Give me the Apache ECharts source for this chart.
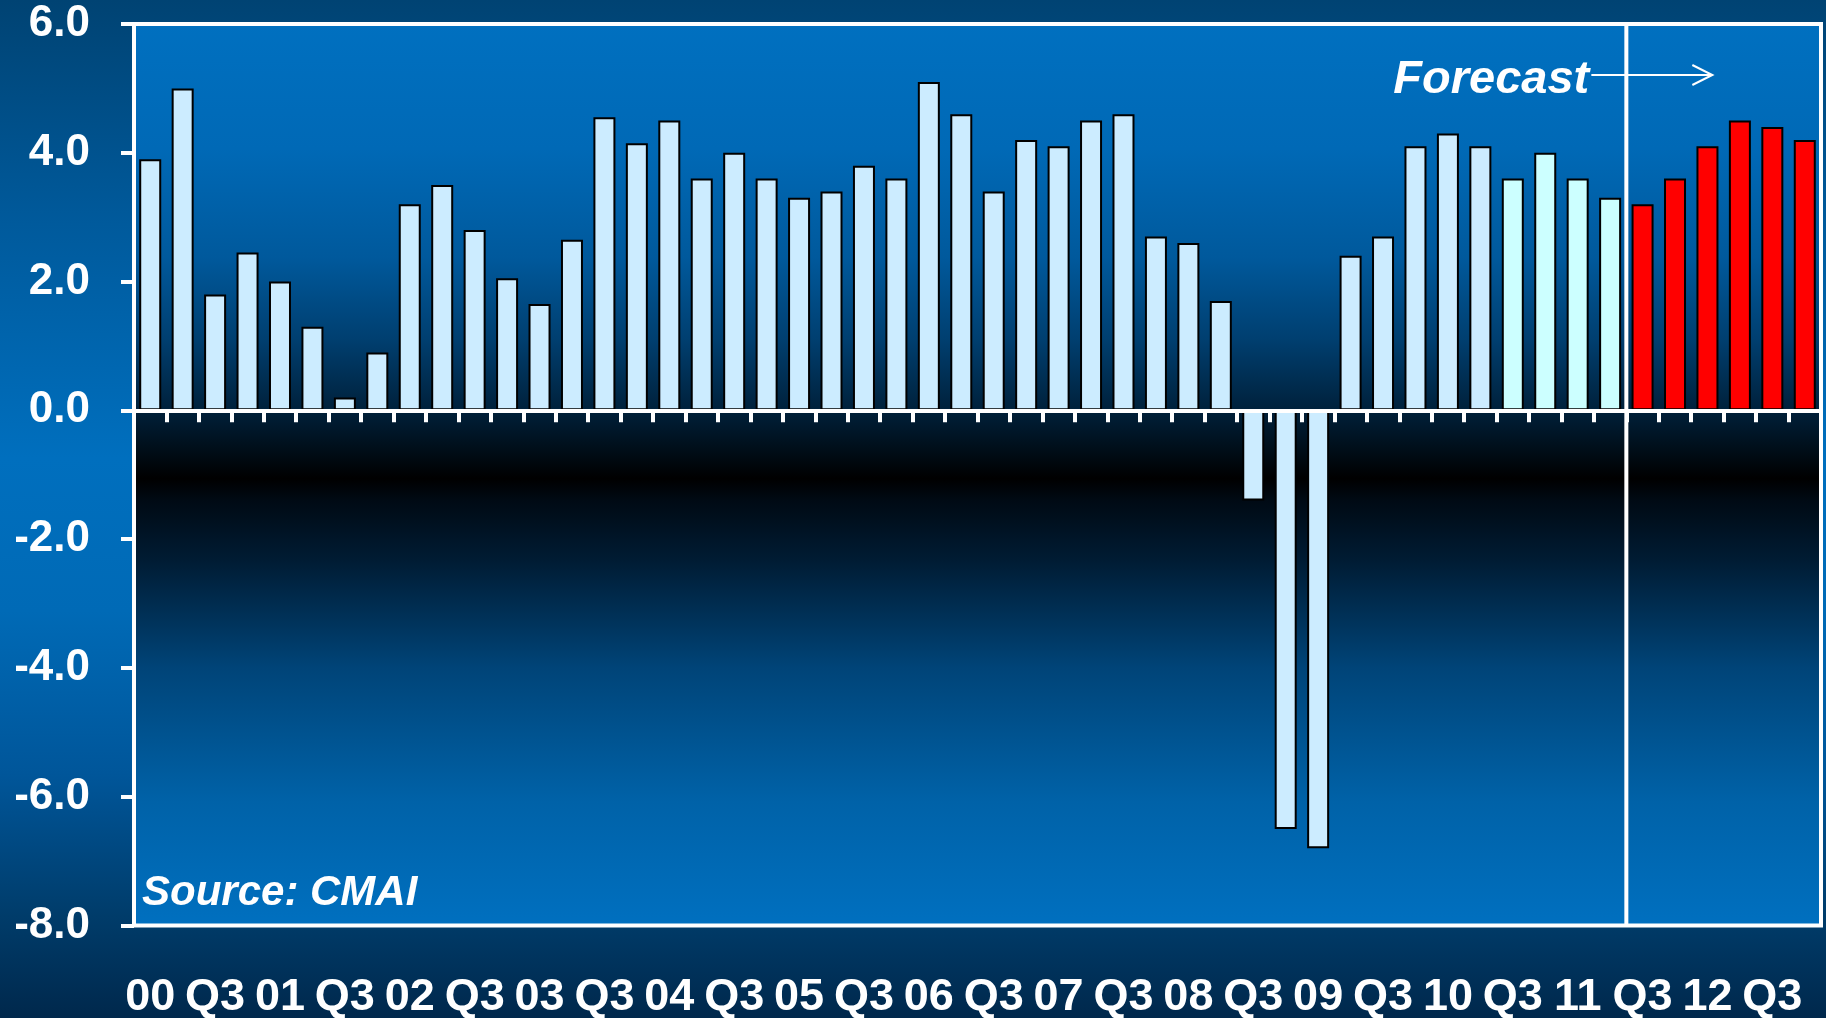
<!DOCTYPE html>
<html>
<head>
<meta charset="utf-8">
<title>Quarterly growth</title>
<script src="https://cdn.jsdelivr.net/npm/echarts@6/dist/echarts.min.js"></script>
<style>
  html, body { margin: 0; padding: 0; width: 1826px; height: 1018px; overflow: hidden; background: #00416e; }
  #chart { width: 1826px; height: 1018px; }
</style>
</head>
<body>
<div id="chart"></div>
<script>
// Quarter labels: two-digit years and quarter names
const years = ['00', '01', '02', '03', '04', '05', '06', '07', '08', '09', '10', '11', '12'];
const quarters = ['Q1', 'Q2', 'Q3', 'Q4'];

// Growth rate per quarter, 2000 Q1 .. 2012 Q4 (%)
const growth = [
  3.9, 5.0, 1.8, 2.45,
  2.0, 1.3, 0.2, 0.9,
  3.2, 3.5, 2.8, 2.05,
  1.65, 2.65, 4.55, 4.15,
  4.5, 3.6, 4.0, 3.6,
  3.3, 3.4, 3.8, 3.6,
  5.1, 4.6, 3.4, 4.2,
  4.1, 4.5, 4.6, 2.7,
  2.6, 1.7, -1.4, -6.5,
  -6.8, 2.4, 2.7, 4.1,
  4.3, 4.1, 3.6, 4.0,
  3.6, 3.3, 3.2, 3.6,
  4.1, 4.5, 4.4, 4.2
];

// Y axis ticks
const yMin = -8, yMax = 6, yStep = 2;

// First quarter of the most recent actuals, and first forecast quarter
const recentFrom = '10Q3';
const forecastFrom = '11Q3';

const categories = [];
years.forEach(function (y) { quarters.forEach(function (q) { categories.push(y + q); }); });

const recentIdx = categories.indexOf(recentFrom);
const forecastIdx = categories.indexOf(forecastFrom);

const FONT = 'Arial, "Liberation Sans", Helvetica, sans-serif';

const barData = growth.map(function (v, i) {
  let fill = '#CCECFF';
  if (i >= forecastIdx) fill = '#FF0000';
  else if (i >= recentIdx) fill = '#CCFFFF';
  return { value: v, itemStyle: { color: fill } };
});

const chart = echarts.init(document.getElementById('chart'), null, { renderer: 'canvas' });

const option = {
  animation: false,
  backgroundColor: new echarts.graphic.LinearGradient(0, 0, 0, 1, [
    { offset: 0, color: '#004373' },
    { offset: 0.22, color: '#005a9c' },
    { offset: 0.45, color: '#006fbe' },
    { offset: 0.6, color: '#006ab6' },
    { offset: 0.76, color: '#00569a' },
    { offset: 0.9, color: '#003c6a' },
    { offset: 1, color: '#00284c' }
  ]),
  grid: {
    left: 134, right: 5, top: 24, bottom: 92.5,
    outerBoundsMode: 'none',
    containLabel: false,
    show: true,
    borderColor: '#ffffff',
    borderWidth: 4,
    backgroundColor: new echarts.graphic.LinearGradient(0, 0, 0, 1, [
      { offset: 0, color: '#0070c0' },
      { offset: 0.14, color: '#0069b6' },
      { offset: 0.26, color: '#00599c' },
      { offset: 0.35, color: '#003f70' },
      { offset: 0.423, color: '#00233f' },
      { offset: 0.504, color: '#000000' },
      { offset: 0.528, color: '#000a14' },
      { offset: 0.595, color: '#001c34' },
      { offset: 0.713, color: '#004478' },
      { offset: 0.861, color: '#0062a8' },
      { offset: 1, color: '#0070c0' }
    ])
  },
  xAxis: [
    {
      // zero line with quarter boundary ticks
      type: 'category',
      data: categories,
      position: 'bottom',
      z: 10,
      axisLine: { show: true, onZero: true, lineStyle: { color: '#ffffff', width: 4 } },
      axisTick: { show: true, interval: 0, length: 12, inside: false, lineStyle: { color: '#ffffff', width: 4 } },
      axisLabel: { show: false },
      splitLine: { show: false }
    },
    {
      // year / Q3 labels under the plot
      type: 'category',
      data: categories,
      position: 'bottom',
      axisLine: { show: false, onZero: false },
      axisTick: { show: false },
      splitLine: { show: false },
      axisLabel: {
        show: true,
        interval: 0,
        margin: 50,
        color: '#ffffff',
        fontFamily: FONT,
        fontWeight: 'bold',
        fontSize: 45,
        formatter: function (v) {
          if (v.slice(2) === quarters[0]) return v.slice(0, 2);
          if (v.slice(2) === quarters[2]) return quarters[2];
          return '';
        }
      }
    }
  ],
  yAxis: {
    type: 'value',
    min: yMin, max: yMax, interval: yStep,
    axisLine: { show: false },
    axisTick: { show: true, length: 13, inside: false, lineStyle: { color: '#ffffff', width: 4 } },
    splitLine: { show: false },
    axisLabel: {
      margin: 44,
      color: '#ffffff',
      fontFamily: FONT,
      fontWeight: 'bold',
      fontSize: 44,
      formatter: function (v) { return v.toFixed(1); }
    }
  },
  series: [{
    type: 'bar',
    xAxisIndex: 0,
    data: barData,
    barWidth: 22,
    itemStyle: { borderColor: '#000000', borderWidth: 2 }
  }]
};

chart.setOption(option);

// Forecast divider, arrow and notes placed from the axis scales
const xLast = chart.convertToPixel({ xAxisIndex: 0 }, categories[forecastIdx - 1]);
const xFirst = chart.convertToPixel({ xAxisIndex: 0 }, categories[forecastIdx]);
const divX = (xLast + xFirst) / 2;
const yTop = chart.convertToPixel({ yAxisIndex: 0 }, yMax);
const yBot = chart.convertToPixel({ yAxisIndex: 0 }, yMin);
const arrowY = 75;

chart.setOption({
  graphic: [
    {
      type: 'line', z: 20,
      shape: { x1: divX, y1: yTop, x2: divX, y2: yBot },
      style: { stroke: '#ffffff', lineWidth: 4 }
    },
    {
      type: 'text', z: 21,
      style: {
        text: 'Forecast', x: divX - 233, y: 80,
        fill: '#ffffff', font: 'italic bold 47px ' + FONT,
        align: 'left', verticalAlign: 'middle'
      }
    },
    {
      type: 'line', z: 21,
      shape: { x1: divX - 35, y1: arrowY, x2: divX + 86, y2: arrowY },
      style: { stroke: '#ffffff', lineWidth: 2 }
    },
    {
      type: 'polyline', z: 21,
      shape: { points: [[divX + 66, arrowY - 10], [divX + 86, arrowY], [divX + 66, arrowY + 10]] },
      style: { stroke: '#ffffff', lineWidth: 2, fill: null }
    },
    {
      type: 'text', z: 21,
      style: {
        text: 'Source: CMAI', x: 142, y: 893,
        fill: '#ffffff', font: 'italic bold 42px ' + FONT,
        align: 'left', verticalAlign: 'middle'
      }
    }
  ]
});
</script>
</body>
</html>
